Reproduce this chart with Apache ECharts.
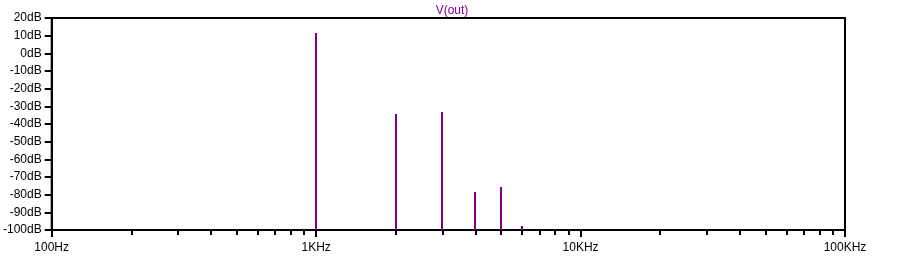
<!DOCTYPE html>
<html><head><meta charset="utf-8">
<script src="https://cdn.jsdelivr.net/npm/echarts@6/dist/echarts.min.js"></script>
<style>html,body{margin:0;padding:0;background:#fff}#c{width:903px;height:257px}</style>
</head><body><div id="c"></div>
<script>
const freqs = [1000, 2000, 3000, 4000, 5000, 6000];
const magDb = [11.5, -34.3, -33.2, -78.5, -75.6, -97.7];
const majorTicks = [100, 1000, 10000, 100000];
const majorLabels = ['100Hz', '1KHz', '10KHz', '100KHz'];
const minorTicks = [200,300,400,500,600,700,800,900,2000,3000,4000,5000,6000,7000,8000,9000,20000,30000,40000,50000,60000,70000,80000,90000];
const seriesName = 'V(out)';

const font = 'Liberation Sans, Arial, sans-serif';
const chart = echarts.init(document.getElementById('c'), null, {renderer: 'canvas'});
const xCommon = {type: 'log', logBase: 10, min: 100, max: 100000, position: 'bottom', splitLine: {show: false}, minorTick: {show: false}};
chart.setOption({
  animation: false,
  backgroundColor: '#fff',
  title: {text: seriesName, left: 447, top: 0, textAlign: 'center',
    textStyle: {color: '#8000a0', fontSize: 12, fontWeight: 'normal', fontFamily: font}},
  grid: {left: 49, right: 58, top: 18, bottom: 27, show: true, borderColor: '#000', borderWidth: 2, backgroundColor: 'transparent'},
  xAxis: [
    Object.assign({}, xCommon, {
      axisLine: {show: true, onZero: false, lineStyle: {color: '#000', width: 2}},
      axisTick: {show: true, length: 7, lineStyle: {color: '#000', width: 2}, customValues: majorTicks},
      axisLabel: {show: true, margin: 12, color: '#000', fontSize: 12, fontFamily: font, customValues: majorTicks,
        formatter: v => { const i = majorTicks.findIndex(t => Math.abs(t - v) < 1e-6 * t); return i >= 0 ? majorLabels[i] : ''; }}
    }),
    Object.assign({}, xCommon, {
      axisLine: {show: false, onZero: false},
      axisTick: {show: true, length: 5, lineStyle: {color: '#000', width: 2}, customValues: minorTicks},
      axisLabel: {show: false}
    })
  ],
  yAxis: {
    type: 'value', min: -100, max: 20, interval: 10,
    axisLine: {show: true, onZero: false, lineStyle: {color: '#000', width: 2}},
    axisTick: {show: true, length: 7, lineStyle: {color: '#000', width: 2}},
    axisLabel: {margin: 10, color: '#000', fontSize: 12, fontFamily: font, formatter: v => v + 'dB'},
    splitLine: {show: false}
  },
  series: [{
    name: seriesName,
    type: 'custom',
    xAxisIndex: 0,
    encode: {x: 0, y: 1},
    data: freqs.map((f, i) => [f, magDb[i]]),
    renderItem: function (params, api) {
      const base = api.coord([api.value(0), -100]);
      const top = api.coord([api.value(0), api.value(1)]);
      const x = Math.round(base[0]);
      return {type: 'line', shape: {x1: x, y1: base[1], x2: x, y2: top[1]},
        style: {stroke: '#800080', lineWidth: 2}};
    }
  }]
});
</script></body></html>
